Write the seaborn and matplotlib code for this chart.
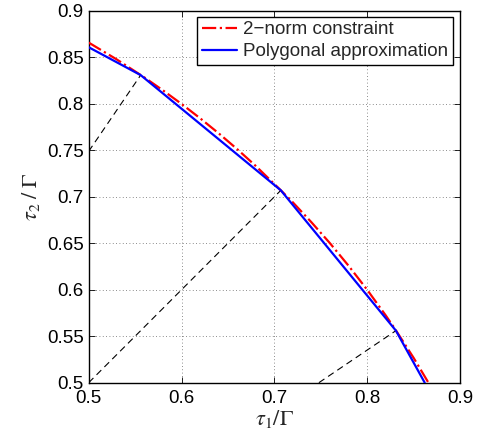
import numpy as np
import matplotlib
matplotlib.use("Agg")
import matplotlib.pyplot as plt
import seaborn as sns

circle_x = [0.50, 0.52, 0.53, 0.56, 0.58, 0.60, 0.62, 0.64, 0.66, 0.68, 0.707,
            0.72, 0.74, 0.76, 0.78, 0.80, 0.82, 0.83, 0.85, 0.866]
circle_y = [0.866, 0.854, 0.848, 0.8285, 0.8146, 0.80, 0.7846, 0.7684, 0.7513, 0.7332, 0.707,
            0.694, 0.6726, 0.65, 0.6258, 0.60, 0.5724, 0.5578, 0.5268, 0.50]

# polygon vertices (blue)
poly_x = [0.50, 0.556, 0.707, 0.831, 0.862]
poly_y = [0.861, 0.831, 0.707, 0.556, 0.50]

# dashed rays towards the vertices
rays = [([0.50, 0.556], [0.749, 0.831]),
        ([0.50, 0.707], [0.50, 0.707]),
        ([0.748, 0.831], [0.50, 0.556])]

ticks = [0.5, 0.6, 0.7, 0.8, 0.9]
yticks = [0.5, 0.55, 0.6, 0.65, 0.7, 0.75, 0.8, 0.85, 0.9]

sns.set_style("ticks")
plt.rcParams['font.family'] = ['Liberation Sans', 'DejaVu Sans']
plt.rcParams['mathtext.fontset'] = 'stix'

fig = plt.figure(figsize=(4.81, 4.33), dpi=100)
ax = fig.add_axes([0.1844, 0.1162, 0.7719, 0.8584])

for rx, ry in rays:
    ax.plot(rx, ry, color='black', lw=0.8, ls=(0, (6, 4)), zorder=2)

sns.lineplot(x=circle_x, y=circle_y, sort=False, estimator=None, ax=ax,
             color='red', lw=1.6, linestyle='-.', label='2\u2212norm constraint', zorder=3)
sns.lineplot(x=poly_x, y=poly_y, sort=False, estimator=None, ax=ax,
             color='blue', lw=1.6, label='Polygonal approximation', zorder=4)

ax.set_xlim(0.5, 0.9)
ax.set_ylim(0.5, 0.9)
ax.set_xticks(ticks)
ax.set_yticks(yticks)
ax.set_xticklabels(['0.5', '0.6', '0.7', '0.8', '0.9'])
ax.set_yticklabels(['0.5', '0.55', '0.6', '0.65', '0.7', '0.75', '0.8', '0.85', '0.9'])
ax.tick_params(direction='in', top=True, right=True, length=4, width=0.6,
               labelsize=13.5, colors='black')
ax.tick_params(axis='x', pad=5.5)
ax.tick_params(axis='y', pad=3.5)
ax.grid(True, ls=(0, (1, 3)), color='black', lw=0.6, alpha=0.6)
for s in ax.spines.values():
    s.set_linewidth(1.0)
    s.set_color('black')

ax.set_xlabel(r'$\tau_1/\Gamma$', fontsize=16, labelpad=0.5)
ax.set_ylabel(r'$\tau_2\;/\;\Gamma$', fontsize=16, labelpad=4)

leg = ax.legend(loc='upper right', bbox_to_anchor=(0.981, 0.985), borderaxespad=0,
                fontsize=13.5, frameon=True, fancybox=False, framealpha=1,
                handlelength=1.9, handletextpad=0.3, borderpad=0.25, labelspacing=0.25)
leg.get_frame().set_edgecolor('black')
leg.get_frame().set_linewidth(1.0)

fig.savefig('out.png', dpi=100)
